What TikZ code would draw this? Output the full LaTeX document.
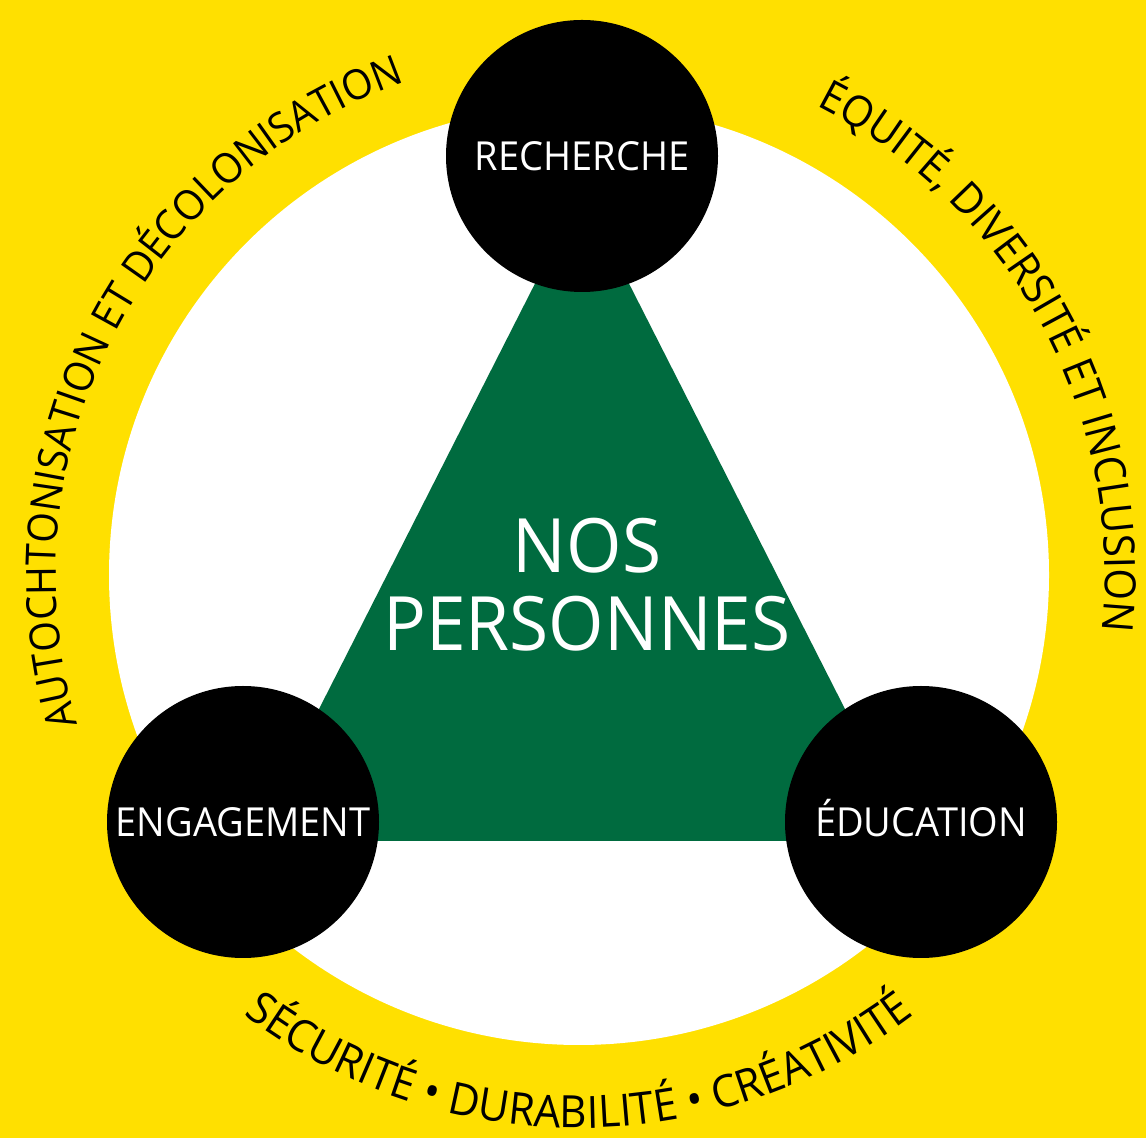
\documentclass[tikz,border=0pt]{standalone}
\usepackage{fontspec}
\setmainfont[FakeStretch=0.95]{Open Sans}
\usetikzlibrary{decorations.text}

\definecolor{fondjaune}{HTML}{FFE000}
\definecolor{vertfonce}{HTML}{006B3F}

\tikzset{
    pilier/.style={circle, fill=black, text=white, minimum size=272pt, inner sep=0pt,
        font=\fontsize{40}{40}\selectfont, text height=28.5pt, text depth=0pt},
    valeur/.style n args={2}{decorate, decoration={text along path, text align=center,
        text={|\fontsize{#1}{#1}\selectfont|#2}}}
}

\begin{document}
\begin{tikzpicture}[x=1pt, y=1pt]
    \useasboundingbox (0, 0) rectangle (1146, 1138);
    \fill[fondjaune] (0, 0) rectangle (1146, 1138);

    \coordinate (anneau) at (579, 563);
    \coordinate (sommet) at (582, 947);
    \coordinate (gauche) at (252, 297);
    \coordinate (droite) at (912, 297);

    \fill[white] (anneau) circle[radius=470pt];
    \fill[vertfonce] (sommet) -- (gauche) -- (droite) -- cycle;

    \node[pilier] (rech) at (582, 982) {RECHERCHE};
    \node[pilier] (eng) at (243, 316) {ENGAGEMENT};
    \node[pilier] (edu) at (921, 316) {ÉDUCATION};

    \node[text=white, align=center, inner sep=0pt, font=\fontsize{75}{78}\selectfont] (nos) at (587, 553) {NOS\\PERSONNES};

    % valeurs autour du cercle
    \path[valeur={41.5}{AUTOCHTONISATION ET DÉCOLONISATION}] (anneau) ++(203:523) arc[start angle=203, end angle=103, radius=523];
    \path[valeur={43}{ÉQUITÉ, DIVERSITÉ ET INCLUSION}] (anneau) ++(78:526) arc[start angle=78, end angle=-21, radius=526];
    \path[valeur={44.5}{SÉCURITÉ • DURABILITÉ • CRÉATIVITÉ}] (anneau) ++(-150:553) arc[start angle=-150, end angle=-30, radius=553];
\end{tikzpicture}
\end{document}
